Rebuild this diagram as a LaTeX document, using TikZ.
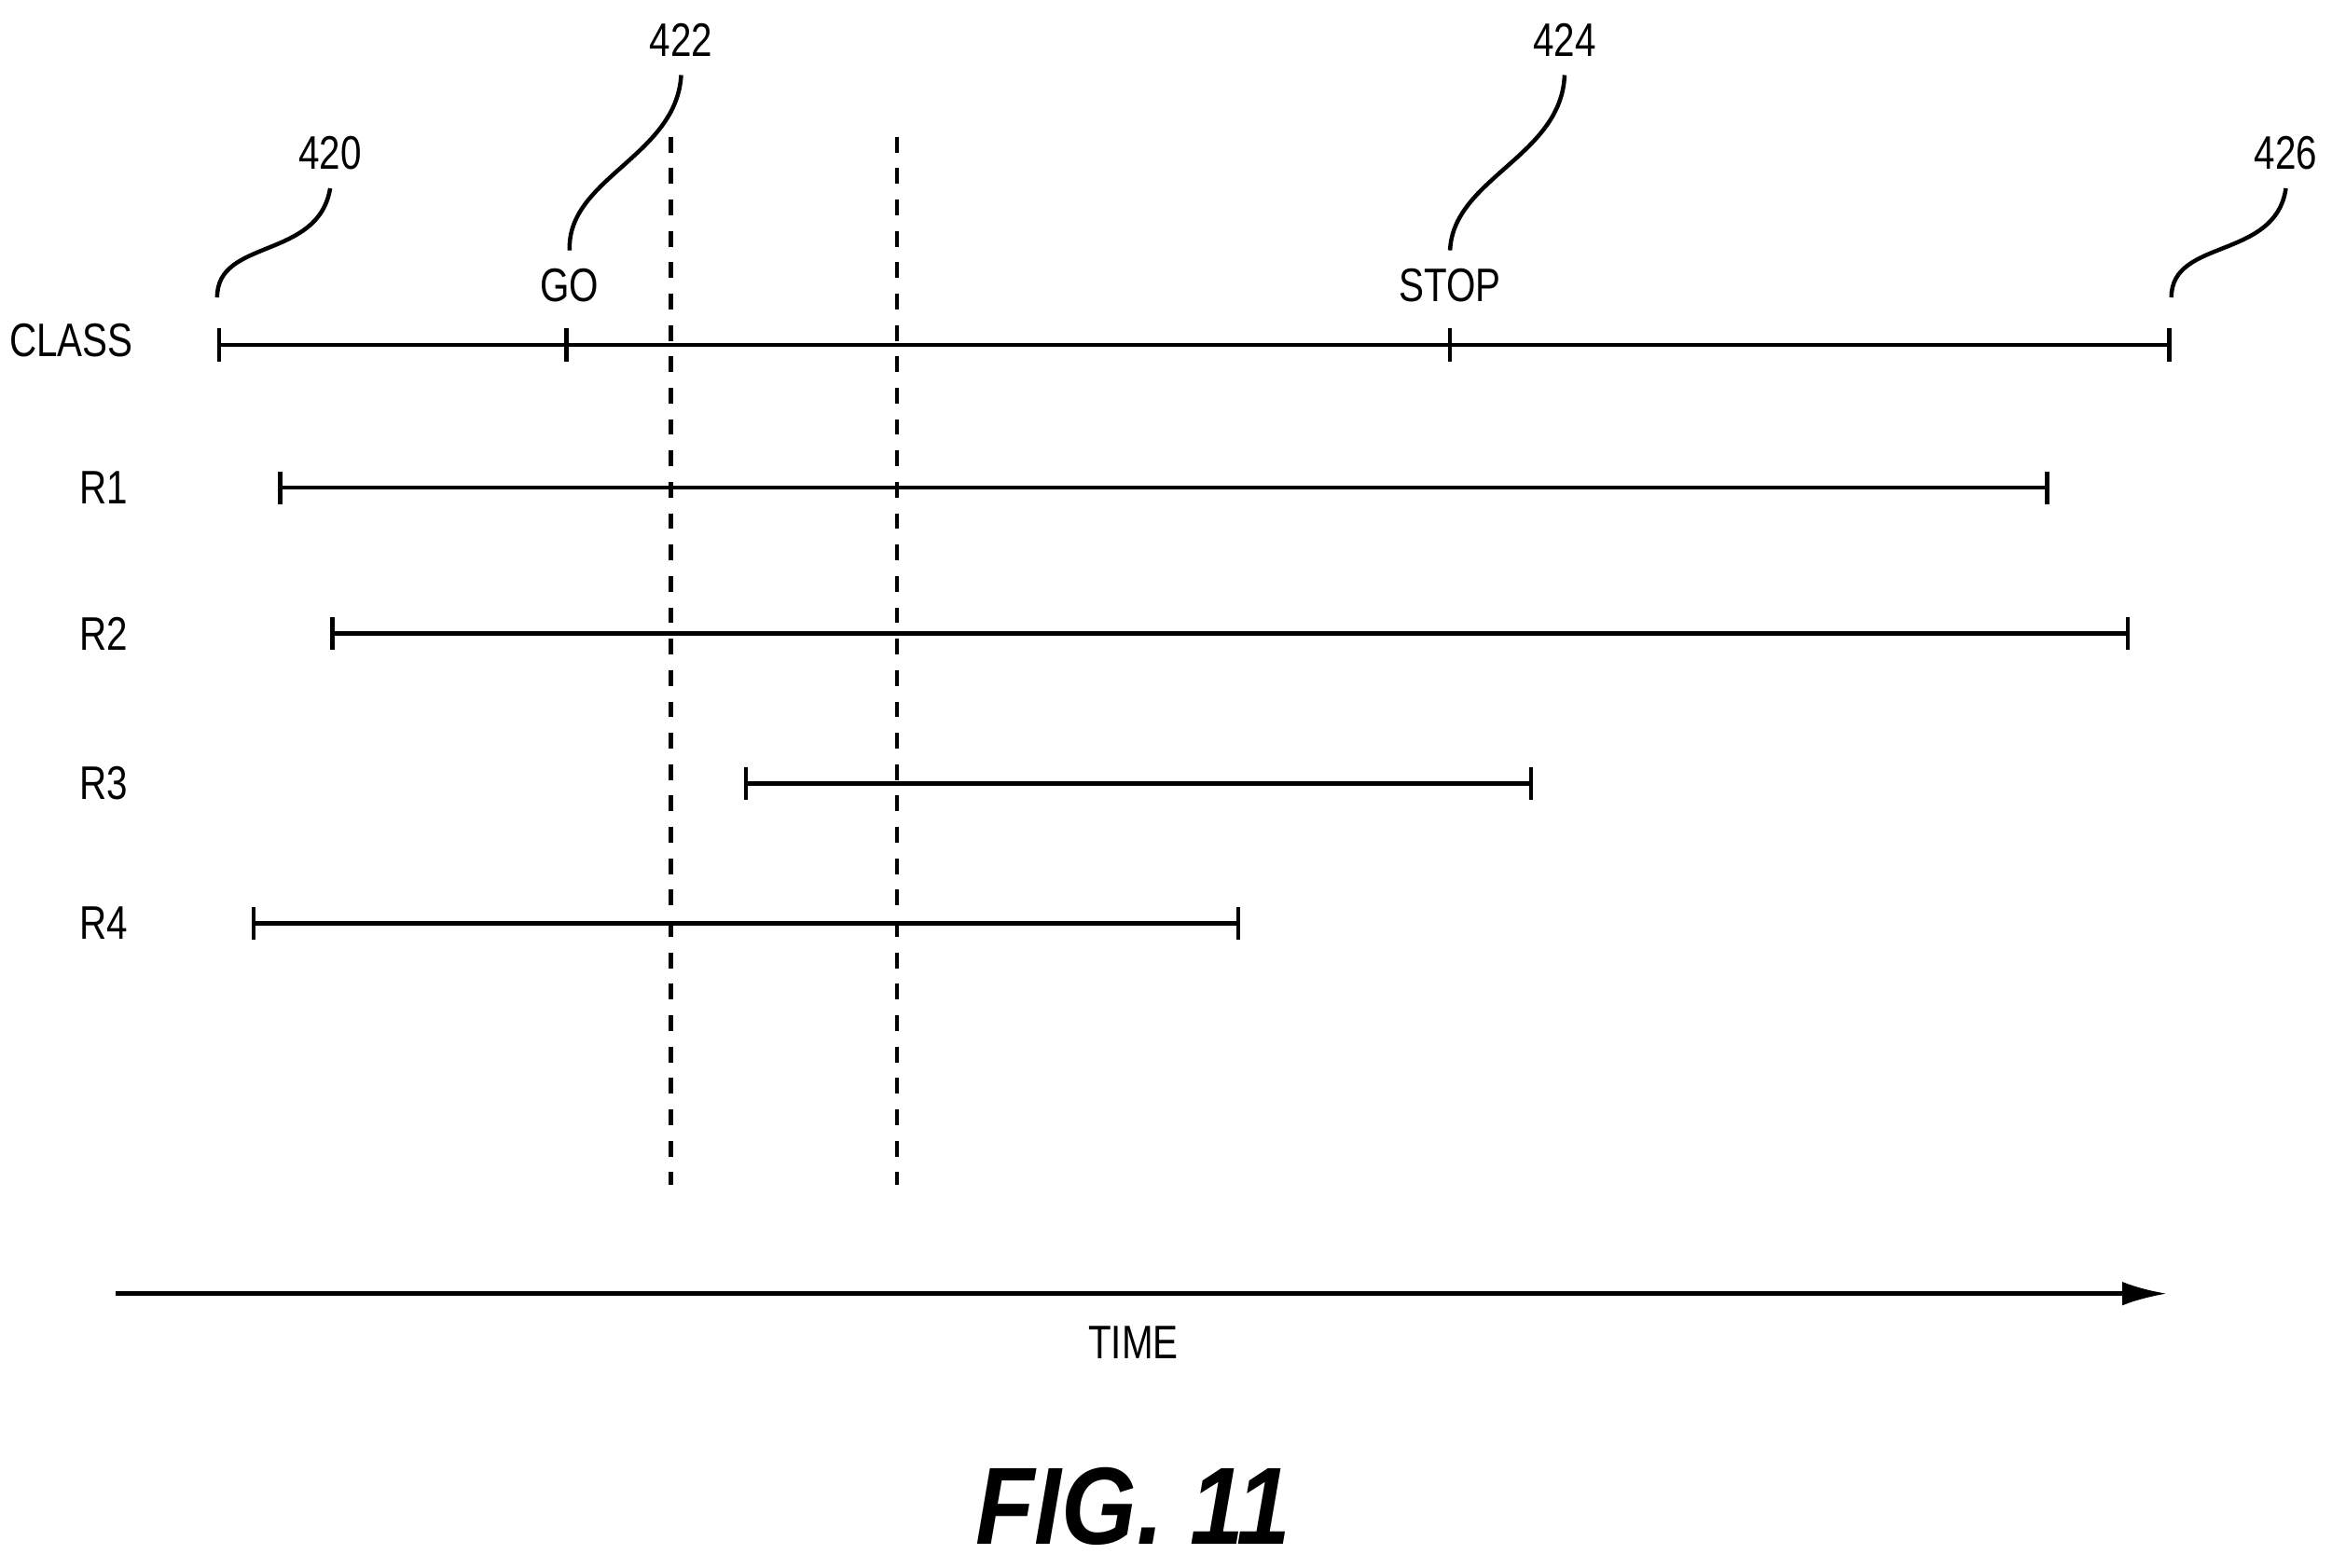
\documentclass[tikz,border=0pt]{standalone}
\usepackage{fontspec}
\setmainfont{Liberation Sans}
\usetikzlibrary{arrows.meta, positioning}
\begin{document}
\begin{tikzpicture}[x=0.01cm, y=-0.01cm, every node/.style={font=\fontsize{9}{10}\selectfont, xscale=0.8},
      span/.style={thick, {Bar[width=2.2mm]}-{Bar[width=2.2mm]}},
      tick/.style={thick},
      leader/.style={thick},
      guide/.style={thick, dashed}]
      \useasboundingbox (0,0) rectangle (1568,1054);

      % Class line
      \node (class) at (48,229) {CLASS};
      \coordinate (c0) at (146,232);
      \coordinate (cgo) at (381,232);
      \coordinate (cstop) at (975,232);
      \coordinate (c1) at (1460,232);
      \draw[span] (c0) -- (c1);
      \foreach \p in {cgo, cstop} {
        \draw[tick] ([yshift=1.1mm]\p) -- ([yshift=-1.1mm]\p);
      }
      \node (go) at (383,192) {GO};
      \node (stop) at (975,192) {STOP};

      % Reference numerals
      \node (n420) at (222,103) {420};
      \node (n422) at (458,27) {422};
      \node (n424) at (1052,27) {424};
      \node (n426) at (1537,103) {426};
      \draw[leader] (146,200) .. controls (146,160) and (214,175) .. (n420.south);
      \draw[leader] (go.north) .. controls (381,120) and (455,105) .. (n422.south);
      \draw[leader] (stop.north) .. controls (977,120) and (1050,105) .. (n424.south);
      \draw[leader] (1460,200) .. controls (1460,160) and (1530,175) .. (n426.south);

      % Rows
      \foreach \name/\y/\a/\b in {R1/328/187/1378, R2/426/222/1432, R3/527/500/1031, R4/621/169/834} {
        \node (l\name) at (70,\y) {\name};
        \coordinate (s\name) at (\a,\y);
        \coordinate (e\name) at (\b,\y);
        \draw[span] (s\name) -- (e\name);
      }

      % Sample instants
      \coordinate (d1t) at (451,92);
      \coordinate (d1b) at (451,797);
      \coordinate (d2t) at (603,92);
      \coordinate (d2b) at (603,797);
      \draw[guide] (d1t) -- (d1b);
      \draw[guide] (d2t) -- (d2b);

      % Time axis
      \coordinate (t0) at (78,870);
      \coordinate (t1) at (1457,870);
      \draw[thick, -{Latex[length=3mm, width=1.6mm]}] (t0) -- (t1);
      \node (time) at (762,903) {TIME};

      \node[xscale=1.1] (fig) at (762,1013) {\fontsize{21}{24}\selectfont\bfseries\itshape FIG. 11};
\end{tikzpicture}
\end{document}
